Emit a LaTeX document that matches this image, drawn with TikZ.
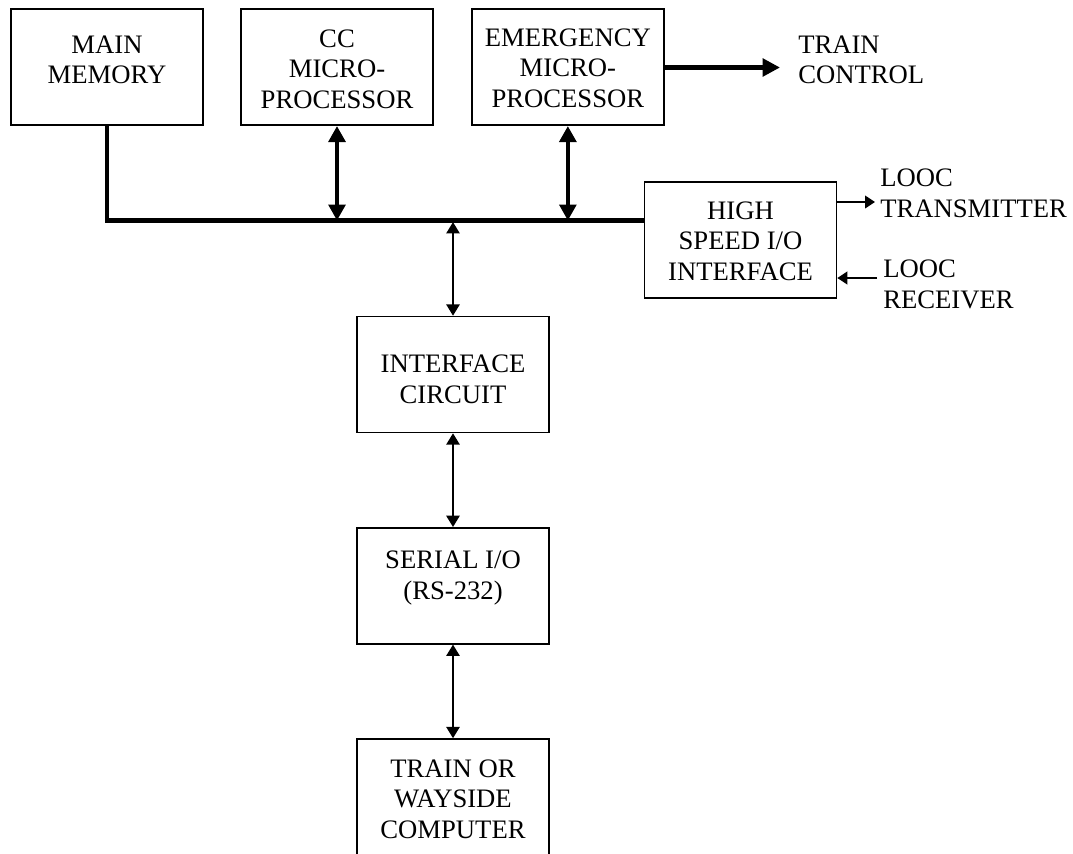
\documentclass[tikz,border=0pt]{standalone}
\usepackage{fontspec}
\setmainfont{Liberation Serif}
\usetikzlibrary{arrows.meta}
\tikzset{
  txt/.style={inner sep=0pt, align=center, font=\fontsize{20}{23}\selectfont},
  box/.style={draw, line width=1.2pt, inner sep=0pt, minimum width=144pt, minimum height=87pt},
  lbl/.style={inner sep=0pt, align=left, anchor=north west, font=\fontsize{20}{23}\selectfont},
  busline/.style={line width=3.3pt, line cap=butt},
  bigarrow/.style={line width=3.3pt, {Triangle[length=12pt,width=12.5pt]}-{Triangle[length=12pt,width=12.5pt]}},
  bigone/.style={line width=3.3pt, -{Triangle[length=13pt,width=13pt]}},
  thinarrow/.style={line width=1.3pt, {Triangle[length=8.5pt,width=10pt]}-{Triangle[length=8.5pt,width=10pt]}},
  thinone/.style={line width=1.3pt, -{Triangle[length=7.5pt,width=9.5pt]}},
}
\begin{document}
\begin{tikzpicture}[x=0.75pt,y=-0.75pt]
\useasboundingbox (0,0) rectangle (1073,853);
\clip (0,0) rectangle (1073,853);
\fill[white] (0,0) rectangle (1073,853);
% boxes
\node[box, label={[txt, yshift=5.5pt]center:{MAIN\\MEMORY}}] (mm) at (107,67.25) {};
\node[box, label={[txt, yshift=-1.5pt]center:{CC\\MICRO-\\PROCESSOR}}] (cc) at (337,67.25) {};
\node[box, label={[txt, yshift=-0.75pt]center:{EMERGENCY\\MICRO-\\PROCESSOR}}] (em) at (567.85,67.25) {};
\node[box, label={[txt, yshift=-1.1pt]center:{HIGH\\SPEED I/O\\INTERFACE}}] (hs) at (740.5,239.75) {};
\node[box, label={[txt, yshift=-3.4pt]center:{INTERFACE\\CIRCUIT}}] (ic) at (453,374.5) {};
\node[box, label={[txt, yshift=5.8pt]center:{SERIAL I/O\\(RS-232)}}] (sio) at (453,585.8) {};
\node[box, minimum height=90pt, label={[txt]center:{TRAIN OR\\WAYSIDE\\COMPUTER}}] (tw) at (453,799) {};
% labels
\node[lbl] (tc) at (798,35.3) {TRAIN\\CONTROL};
\node[lbl] (lt) at (880,169) {LOOC\\TRANSMITTER};
\node[lbl] (lr) at (883,260) {LOOC\\RECEIVER};
% bus
\coordinate (busR) at (hs.west |- 0,220.5);
\draw[busline] (mm.south) |- (busR);
\draw[bigarrow] (cc.south) -- (cc.south |- busR);
\draw[bigarrow] (em.south) -- (em.south |- busR);
\coordinate (tcend) at (780,67.5);
\draw[bigone] (em.east |- tcend) -- (tcend);
% thin connections
\draw[thinarrow] ([yshift=-1.2pt]ic.north |- busR) -- (ic.north);
\draw[thinarrow] (ic.south) -- (sio.north);
\draw[thinarrow] (sio.south) -- (tw.north);
\coordinate (ltend) at (875,202);
\coordinate (lrstart) at (877,278);
\draw[thinone] (hs.east |- ltend) -- (ltend);
\draw[thinone] (lrstart) -- (hs.east |- lrstart);
\end{tikzpicture}
\end{document}
